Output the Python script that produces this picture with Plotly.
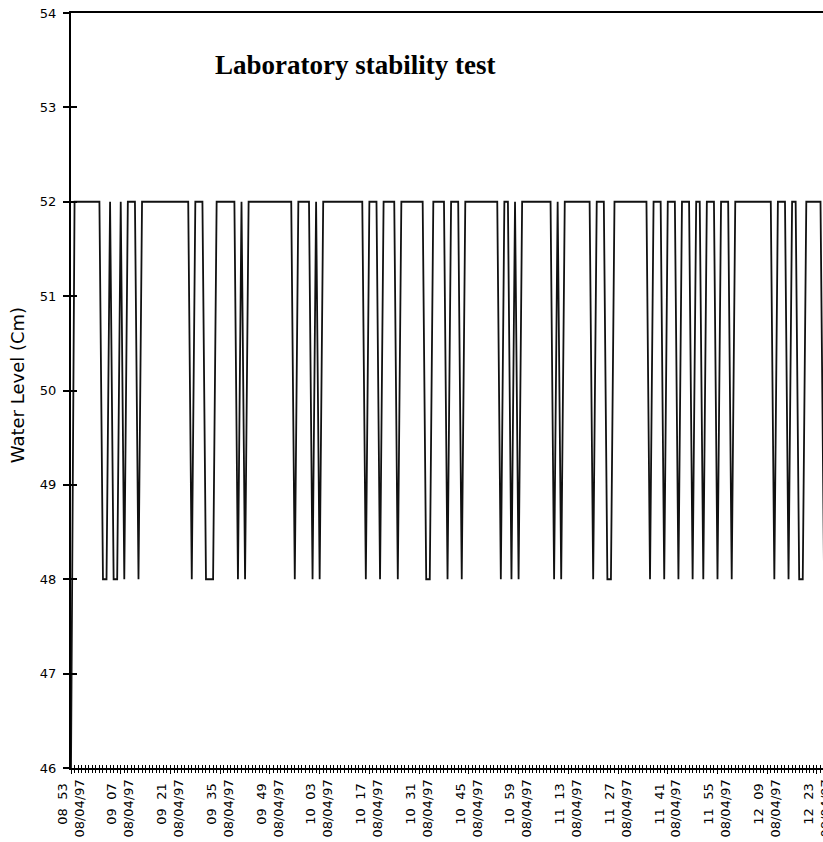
import plotly.graph_objects as go

# minutes elapsed since 08:53 on 08/04/97 (one reading per minute)
minute = list(range(213))

# water level readings (cm)
water_level = [
    46, 52, 52, 52, 52, 52, 52, 52, 52, 48,
    48, 52, 48, 48, 52, 48, 52, 52, 52, 48,
    52, 52, 52, 52, 52, 52, 52, 52, 52, 52,
    52, 52, 52, 52, 48, 52, 52, 52, 48, 48,
    48, 52, 52, 52, 52, 52, 52, 48, 52, 48,
    52, 52, 52, 52, 52, 52, 52, 52, 52, 52,
    52, 52, 52, 48, 52, 52, 52, 52, 48, 52,
    48, 52, 52, 52, 52, 52, 52, 52, 52, 52,
    52, 52, 52, 48, 52, 52, 52, 48, 52, 52,
    52, 52, 48, 52, 52, 52, 52, 52, 52, 52,
    48, 48, 52, 52, 52, 52, 48, 52, 52, 52,
    48, 52, 52, 52, 52, 52, 52, 52, 52, 52,
    52, 48, 52, 52, 48, 52, 48, 52, 52, 52,
    52, 52, 52, 52, 52, 52, 48, 52, 48, 52,
    52, 52, 52, 52, 52, 52, 52, 48, 52, 52,
    52, 48, 48, 52, 52, 52, 52, 52, 52, 52,
    52, 52, 52, 48, 52, 52, 52, 48, 52, 52,
    52, 48, 52, 52, 52, 48, 52, 52, 48, 52,
    52, 52, 48, 52, 52, 52, 48, 52, 52, 52,
    52, 52, 52, 52, 52, 52, 52, 52, 48, 52,
    52, 52, 48, 52, 52, 48, 48, 52, 52, 52,
    52, 52, 48,
]

tick_minutes = [0, 14, 28, 42, 56, 70, 84, 98, 112, 126, 140, 154, 168, 182, 196, 210]
tick_times = ["08 53", "09 07", "09 21", "09 35", "09 49", "10 03", "10 17", "10 31",
              "10 45", "10 59", "11 13", "11 27", "11 41", "11 55", "12 09", "12 23"]
date_label = "08/04/97"
y_ticks = [46, 47, 48, 49, 50, 51, 52, 53, 54]

NB = "\u00a0"
tick_text = [t.replace(" ", NB + NB) + NB + "<br>" + date_label for t in tick_times]

x_range = [0, 211.7]
y_range = [46, 54]

fig = go.Figure()
fig.add_trace(go.Scatter(
    x=minute, y=water_level, mode="lines",
    line=dict(color="#111111", width=1.8),
    showlegend=False, hoverinfo="skip",
))
# helper trace so the overlay axes (giving cross-shaped ticks) are drawn
fig.add_trace(go.Scatter(x=[None], y=[None], xaxis="x2", yaxis="y2",
                         showlegend=False, hoverinfo="skip"))

fig.update_layout(
    width=823, height=842,
    margin=dict(l=71, r=0, t=13, b=74, autoexpand=False),
    paper_bgcolor="white", plot_bgcolor="white",
    font=dict(family="DejaVu Sans", color="black"),
    xaxis=dict(
        range=x_range, tickmode="array", tickvals=tick_minutes, ticktext=tick_text,
        tickangle=-90, ticks="outside", ticklen=4, tickcolor="black", tickwidth=1,
        tickfont=dict(family="DejaVu Sans", size=13, color="black"),
        ticklabelstandoff=0, ticklabeloverflow="allow", automargin=False,
        showgrid=False, zeroline=False, showline=True, linecolor="black",
        linewidth=2, mirror=True,
        minor=dict(tickmode="linear", tick0=0, dtick=1, ticks="outside",
                   ticklen=3, tickcolor="black", tickwidth=1, showgrid=False),
    ),
    yaxis=dict(
        range=y_range, tickmode="array", tickvals=y_ticks,
        ticks="outside", ticklen=6, tickcolor="black", tickwidth=1.5,
        tickfont=dict(family="DejaVu Sans", size=13, color="black"),
        ticklabelstandoff=4, automargin=False,
        showgrid=False, zeroline=False, showline=True, linecolor="black",
        linewidth=2,
    ),
    xaxis2=dict(
        overlaying="x", anchor="y2", side="bottom", range=x_range,
        tickmode="linear", tick0=0, dtick=1, ticks="inside", ticklen=3,
        tickcolor="black", tickwidth=1, showticklabels=False, automargin=False,
        showgrid=False, zeroline=False, showline=False,
    ),
    yaxis2=dict(
        overlaying="y", anchor="x2", side="left", range=y_range,
        tickmode="array", tickvals=y_ticks, ticks="inside", ticklen=6,
        tickcolor="black", tickwidth=1.5, showticklabels=False, automargin=False,
        showgrid=False, zeroline=False, showline=False,
    ),
    annotations=[
        dict(text="<b>Laboratory stability test</b>", xref="paper", yref="paper",
             x=0.3777, y=0.931, xanchor="center", yanchor="middle", showarrow=False,
             font=dict(family="Liberation Serif", size=27, color="black")),
        dict(text="Water Level (Cm)", xref="paper", yref="paper",
             x=-0.0718, y=0.507, xanchor="center", yanchor="middle", showarrow=False,
             textangle=-90,
             font=dict(family="DejaVu Sans", size=18, color="black")),
    ],
)

fig.write_html("out.html", config={"displayModeBar": False},
               post_script="document.body.style.margin='0';")
